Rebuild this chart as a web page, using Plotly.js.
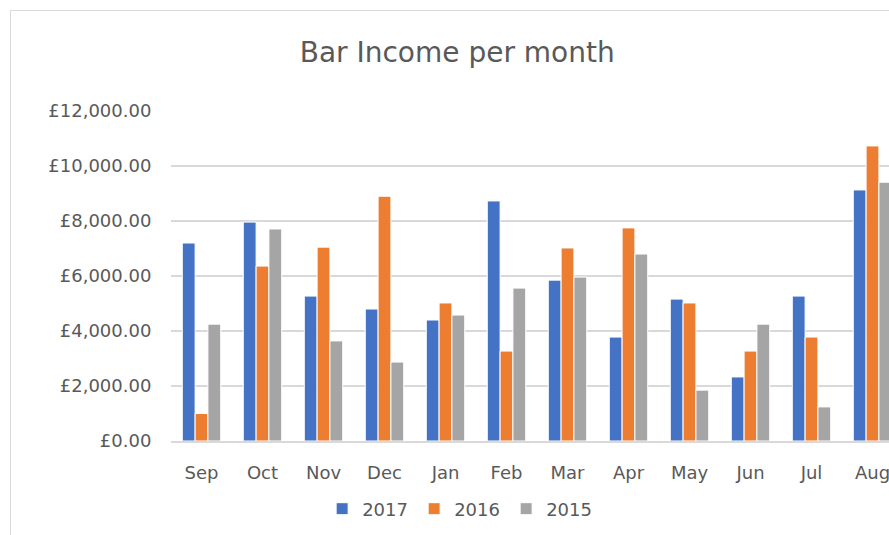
<!DOCTYPE html>
<html>
<head>
<meta charset="utf-8">
<script src="https://cdn.plot.ly/plotly-3.0.1.min.js"></script>
<style>
html,body{margin:0;padding:0;overflow:hidden;background:#fff;width:889px;height:535px;}
#chart{position:absolute;left:10px;top:10px;width:920px;height:540px;border-left:1.5px solid #d9d9d9;border-top:1.5px solid #d9d9d9;}
</style>
</head>
<body>
<div id="chart"></div>
<script>
const months = ["Sep","Oct","Nov","Dec","Jan","Feb","Mar","Apr","May","Jun","Jul","Aug"];
const seriesNames = ["2017","2016","2015"];
const values2017 = [7200, 7960, 5270, 4800, 4400, 8730, 5850, 3780, 5160, 2330, 5270, 9130];
const values2016 = [1000, 6360, 7050, 8900, 5020, 3270, 7020, 7750, 5020, 3270, 3780, 10730];
const values2015 = [4250, 7710, 3640, 2870, 4580, 5560, 5960, 6800, 1850, 4250, 1240, 9410];
const colors = ["#4472C4", "#ED7D31", "#A5A5A5"];
const allValues = [values2017, values2016, values2015];

const FONT = "DejaVu Sans, sans-serif";
const traces = allValues.map((v, i) => ({
  type: "bar",
  name: seriesNames[i],
  x: months,
  y: v,
  marker: {color: colors[i], line: {color: "#ffffff", width: 1}},
  hoverinfo: "none"
}));

const layout = {
  width: 920,
  height: 540,
  margin: {l: 160, r: 28, t: 100, b: 110},
  paper_bgcolor: "#ffffff",
  plot_bgcolor: "#ffffff",
  barmode: "group",
  bargap: 0.37,
  bargroupgap: 0,
  showlegend: true,
  title: {
    text: "Bar Income per month",
    font: {family: FONT, size: 28, color: "#595959"},
    xref: "container", x: 0.485, xanchor: "center",
    yref: "container", y: 0.924, yanchor: "middle"
  },
  xaxis: {
    type: "category",
    showgrid: false,
    showline: true,
    linecolor: "#d9d9d9",
    linewidth: 1.5,
    ticks: "outside",
    ticklen: 15,
    tickcolor: "rgba(0,0,0,0)",
    tickfont: {family: FONT, size: 18, color: "#595959"},
    zeroline: false
  },
  yaxis: {
    range: [0, 12000],
    dtick: 2000,
    tickprefix: "£",
    tickformat: ",.2f",
    showgrid: true,
    gridcolor: "#d9d9d9",
    gridwidth: 1.5,
    zeroline: false,
    showline: false,
    ticks: "outside",
    ticklen: 15,
    tickcolor: "rgba(0,0,0,0)",
    tickfont: {family: FONT, size: 18, color: "#595959"}
  },
  legend: {
    orientation: "h",
    x: 0.395, xanchor: "center",
    y: -0.206, yanchor: "middle",
    font: {family: FONT, size: 18, color: "#595959"},
    itemwidth: 30,
    entrywidth: 47,
    entrywidthmode: "pixels",
    traceorder: "normal"
  }
};

Plotly.newPlot("chart", traces, layout, {displayModeBar: false, staticPlot: true});
</script>
</body>
</html>
